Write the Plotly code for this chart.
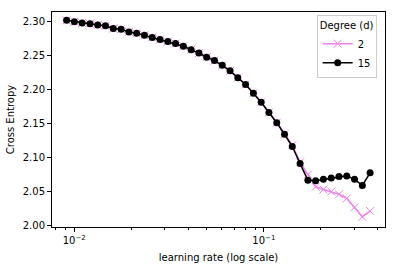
import plotly.graph_objects as go

learning_rate = [0.009108, 0.01001, 0.01100, 0.01210, 0.01329, 0.01461, 0.01606, 0.01766,
                 0.01941, 0.02133, 0.02345, 0.02577, 0.02833, 0.03114, 0.03422, 0.03762,
                 0.04135, 0.04545, 0.04995, 0.05491, 0.06035, 0.06634, 0.07291, 0.08014,
                 0.08809, 0.09683, 0.1064, 0.1170, 0.1286, 0.1413, 0.1554, 0.1708,
                 0.1877, 0.2063, 0.2268, 0.2492, 0.2740, 0.3011, 0.3310, 0.3638]

ce_deg15 = [2.301, 2.299, 2.297, 2.296, 2.294, 2.293, 2.289, 2.288,
            2.284, 2.282, 2.279, 2.276, 2.273, 2.270, 2.267, 2.263,
            2.258, 2.253, 2.247, 2.242, 2.235, 2.227, 2.217, 2.207,
            2.194, 2.181, 2.166, 2.151, 2.134, 2.116, 2.091, 2.0665,
            2.066, 2.068, 2.070, 2.072, 2.073, 2.068, 2.059, 2.0775]

ce_deg2 = [2.301, 2.299, 2.297, 2.296, 2.294, 2.293, 2.289, 2.288,
           2.284, 2.282, 2.279, 2.276, 2.273, 2.270, 2.267, 2.263,
           2.258, 2.253, 2.247, 2.242, 2.235, 2.227, 2.217, 2.207,
           2.194, 2.181, 2.166, 2.151, 2.134, 2.118, 2.093, 2.075,
           2.057, 2.053, 2.050, 2.046, 2.040, 2.027, 2.013, 2.0215]

y_ticks = [2.00, 2.05, 2.10, 2.15, 2.20, 2.25, 2.30]
x_major = [0.01, 0.1]
x_major_text = ["10<sup>\u22122</sup>", "10<sup>\u22121</sup>"]
x_minor = [0.008, 0.009, 0.02, 0.03, 0.04, 0.05, 0.06, 0.07, 0.08, 0.09, 0.2, 0.3, 0.4]

FONT = "DejaVu Sans"

fig = go.Figure()
fig.add_trace(go.Scatter(
    x=learning_rate, y=ce_deg2, name="2", mode="lines+markers",
    line=dict(color="violet", width=1.5),
    marker=dict(symbol="x-thin", size=8, color="violet", line=dict(color="violet", width=1)),
))
fig.add_trace(go.Scatter(
    x=learning_rate, y=ce_deg15, name="15", mode="lines+markers",
    line=dict(color="black", width=1.5),
    marker=dict(symbol="circle", size=7, color="black"),
))

fig.update_layout(
    width=396, height=270,
    margin=dict(l=52, r=11, t=12, b=43, autoexpand=False),
    paper_bgcolor="white", plot_bgcolor="white",
    font=dict(family=FONT, size=10, color="black"),
    showlegend=True,
    legend=dict(
        title=dict(text="Degree (d)", font=dict(size=10), side="top center"),
        x=0.975, xanchor="right", y=0.985, yanchor="top",
        bgcolor="rgba(255,255,255,0.8)", bordercolor="#cccccc", borderwidth=1,
        font=dict(size=10), itemwidth=30, tracegroupgap=0,
    ),
)

fig.update_xaxes(
    type="log", range=[-2.1176, -0.3606],
    tickmode="array", tickvals=x_major, ticktext=x_major_text,
    ticks="outside", ticklen=4, tickwidth=1, tickcolor="black",
    minor=dict(tickmode="array", tickvals=x_minor, ticks="outside", ticklen=2,
               tickwidth=0.7, tickcolor="black", showgrid=False),
    showline=True, linecolor="black", linewidth=1, mirror=True,
    showgrid=False, zeroline=False,
    title=dict(text="learning rate (log scale)", standoff=8, font=dict(size=10)),
    automargin=False,
)
fig.update_yaxes(
    range=[1.9981, 2.3132],
    tickmode="array", tickvals=y_ticks, tickformat=".2f",
    ticks="outside", ticklen=4, tickwidth=1, tickcolor="black",
    showline=True, linecolor="black", linewidth=1, mirror=True,
    showgrid=False, zeroline=False,
    title=dict(text="Cross Entropy", standoff=6, font=dict(size=10)),
    automargin=False,
)

fig.write_html("out.html", config={"displayModeBar": False},
               post_script="document.body.style.margin='0';")
